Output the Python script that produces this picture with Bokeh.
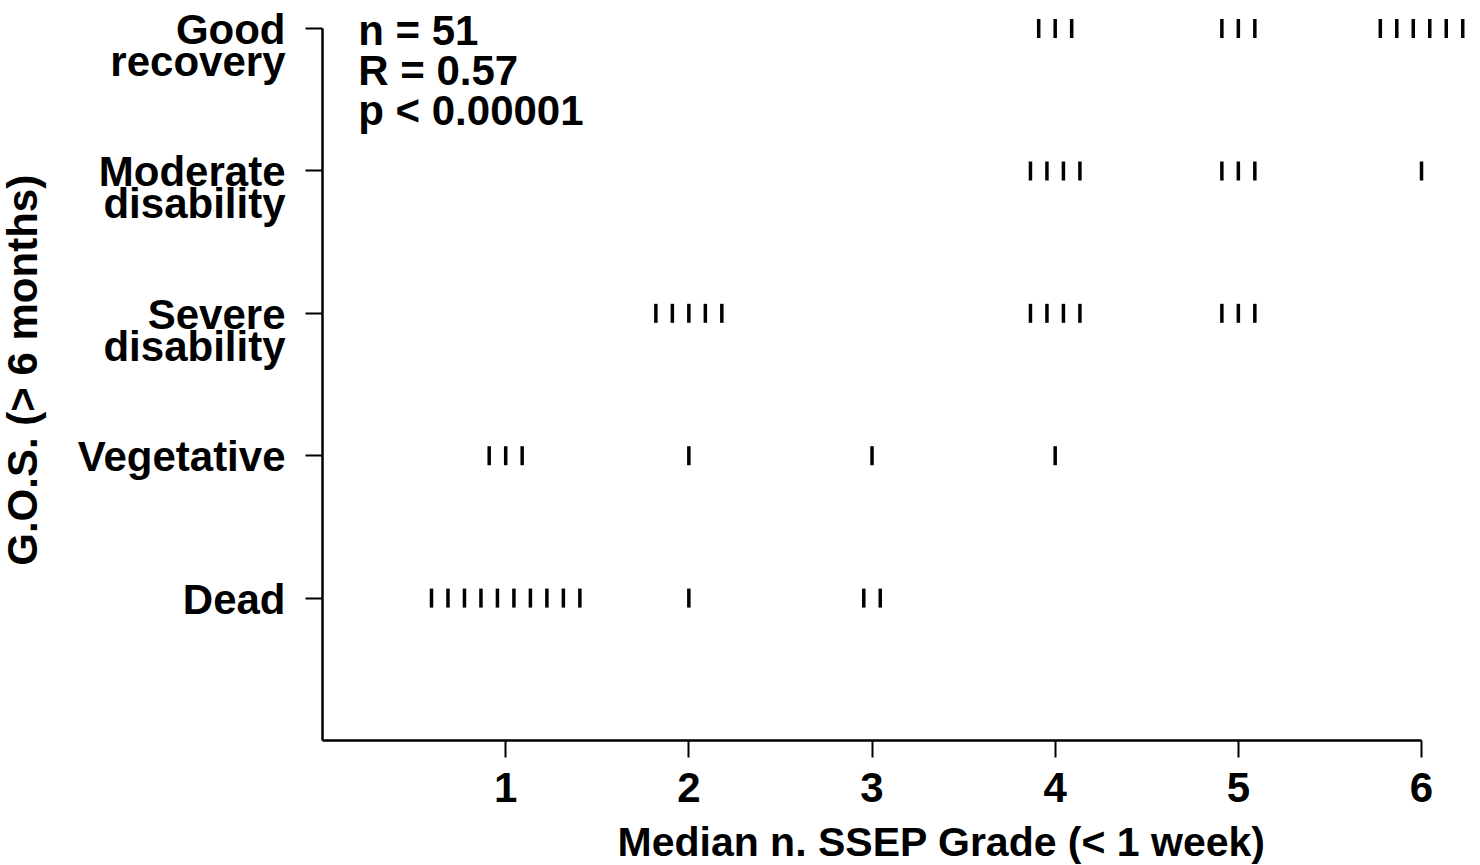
import numpy as np
from bokeh.plotting import figure
from bokeh.models import Label, ColumnDataSource, FixedTicker, Range1d, LinearAxis, Grid
from bokeh.embed import file_html
from bokeh.resources import INLINE

# ---- data ----
grades = [1, 2, 3, 4, 5, 6]
outcome_levels = [1, 2, 3, 4, 5]
outcome_line1 = ["Dead", "Vegetative", "Severe", "Moderate", "Good"]
outcome_line2 = ["", "", "disability", "disability", "recovery"]
dead_counts = [10, 1, 2, 0, 0, 0]
vegetative_counts = [3, 1, 1, 1, 0, 0]
severe_counts = [0, 5, 0, 4, 3, 0]
moderate_counts = [0, 0, 0, 4, 3, 1]
good_counts = [0, 0, 0, 3, 3, 6]
stats_lines = ["n = 51", "R = 0.57", "p < 0.00001"]
x_title = "Median n. SSEP Grade (< 1 week)"
y_title = "G.O.S. (> 6 months)"

FONT = "Liberation Sans"
FS = "42px"
SPACING = 0.09  # horizontal spread of tied observations

xs, ys = [], []
for level, counts in zip(outcome_levels,
                         [dead_counts, vegetative_counts, severe_counts,
                          moderate_counts, good_counts]):
    for g, n in zip(grades, counts):
        for i in range(n):
            xs.append(g + (i - (n - 1) / 2) * SPACING)
            ys.append(level)
src = ColumnDataSource(dict(x=xs, y=ys))

p = figure(width=1480, height=865, x_range=Range1d(-1.758, 6.322), y_range=Range1d(-0.878, 5.197),
           output_backend="svg", toolbar_location=None,
           x_axis_location=None, y_axis_location=None,
           min_border_left=0, min_border_right=0, min_border_top=0, min_border_bottom=0)
p.outline_line_color = None
p.background_fill_color = "white"
p.border_fill_color = "white"
p.center = [r for r in p.center if not isinstance(r, Grid)]

p.rect("x", "y", width=3.5, height=19, width_units="screen", height_units="screen",
       source=src, fill_color="black", line_color=None)

xaxis = LinearAxis(fixed_location=0, ticker=FixedTicker(ticks=grades), bounds=(0, 6))
yaxis = LinearAxis(fixed_location=0, ticker=FixedTicker(ticks=outcome_levels), bounds=(0, 5))
for ax in (xaxis, yaxis):
    ax.axis_line_width = 2.5
    ax.axis_line_color = "black"
    ax.major_tick_line_width = 2
    ax.major_tick_line_color = "black"
    ax.major_tick_in = 0
    ax.major_tick_out = 17
    ax.minor_tick_line_color = None
xaxis.major_label_text_font = FONT
xaxis.major_label_text_font_style = "bold"
xaxis.major_label_text_font_size = FS
xaxis.major_label_text_color = "black"
xaxis.major_label_standoff = 16
yaxis.major_label_text_font_size = "0px"
yaxis.major_label_text_alpha = 0
p.add_layout(xaxis, "below")
p.add_layout(yaxis, "left")

def lab(x, y, text, size=FS, **kw):
    p.add_layout(Label(x=x, y=y, text=text, text_font=FONT, text_font_style="bold",
                       text_font_size=size, text_color="black", **kw))

for level, l1, l2 in zip(outcome_levels, outcome_line1, outcome_line2):
    lab(-0.202, level, l1, text_align="right", text_baseline="middle", y_offset=-1)
    if l2:
        lab(-0.202, level, l2, text_align="right", text_baseline="middle", y_offset=-33)

for i, s in enumerate(stats_lines):
    lab(0.195, 5, s, text_align="left", text_baseline="middle", y_offset=-2 - 40 * i)

lab(3.38, -0.716, x_title, size="41px", text_align="center", text_baseline="middle")
lab(-1.638, 2.6, y_title, text_align="center", text_baseline="middle", angle=np.pi / 2)

open("out.html", "w").write(file_html(p, INLINE))
